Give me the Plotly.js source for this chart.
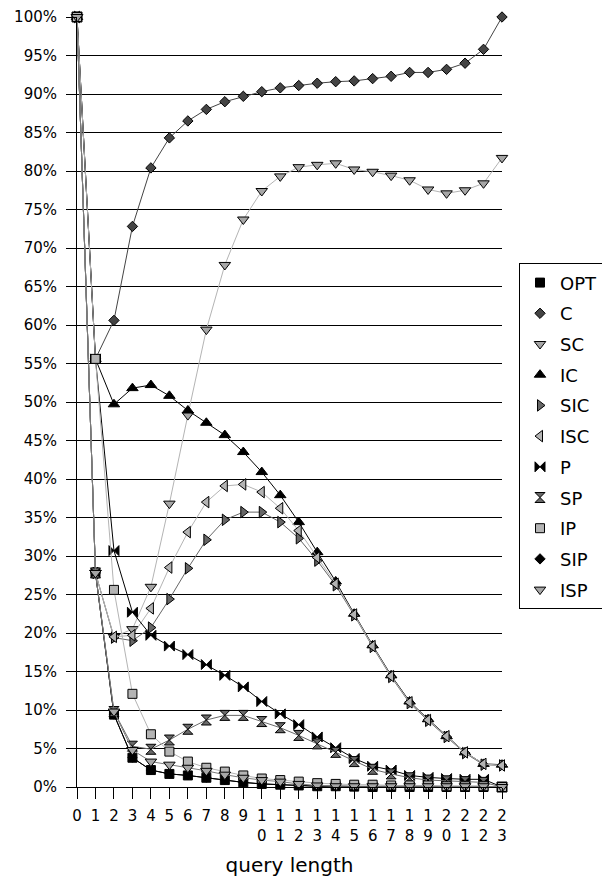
<!DOCTYPE html>
<html>
<head>
<meta charset="utf-8">
<script src="https://cdn.plot.ly/plotly-3.0.1.min.js"></script>
<style>html,body{margin:0;padding:0;background:#fff;}</style>
</head>
<body>
<div id="chart" style="width:602px;height:879px;"></div>
<script>
// query length (x categories)
const queryLength = [0,1,2,3,4,5,6,7,8,9,10,11,12,13,14,15,16,17,18,19,20,21,22,23];
const xLabels = ["0","1","2","3","4","5","6","7","8","9","10","11","12","13","14","15","16","17","18","19","20","21","22","23"];

// series values (percent)
const OPT = [100, 27.8, 9.4, 3.8, 2.2, 1.7, 1.5, 1.2, 0.9, 0.6, 0.4, 0.3, 0.2, 0.1, 0.1, 0.05, 0, 0, 0, 0, 0, 0, 0, 0];
const C   = [100, 55.6, 60.6, 72.8, 80.4, 84.3, 86.5, 88.0, 89.0, 89.7, 90.3, 90.8, 91.1, 91.4, 91.6, 91.7, 92.0, 92.3, 92.8, 92.8, 93.2, 94.0, 95.8, 100];
const SC  = [100, 27.8, 19.5, 20.5, 26.0, 36.8, 48.3, 59.4, 67.8, 73.7, 77.4, 79.3, 80.5, 80.8, 81.0, 80.2, 79.9, 79.4, 78.8, 77.6, 77.1, 77.5, 78.4, 81.7];
const IC  = [100, 55.6, 49.7, 51.8, 52.2, 50.8, 48.9, 47.3, 45.7, 43.5, 40.9, 37.9, 34.4, 30.5, 26.7, 22.5, 18.4, 14.5, 11.1, 8.8, 6.6, 4.5, 3.0, 2.9];
const SIC = [100, 27.8, 19.4, 19.0, 20.7, 24.4, 28.4, 32.1, 34.7, 35.7, 35.7, 34.4, 32.3, 29.4, 26.2, 22.3, 18.2, 14.3, 10.9, 8.6, 6.5, 4.4, 2.9, 2.8];
const ISC = [100, 27.8, 19.5, 19.7, 23.2, 28.5, 33.1, 37.0, 39.1, 39.3, 38.3, 36.2, 33.3, 29.8, 26.4, 22.4, 18.3, 14.4, 11.0, 8.7, 6.6, 4.5, 3.0, 2.8];
const P   = [100, 55.6, 30.7, 22.7, 19.7, 18.3, 17.2, 15.9, 14.5, 13.0, 11.1, 9.5, 8.1, 6.5, 5.1, 3.7, 2.7, 2.2, 1.5, 1.25, 1.1, 1.0, 1.0, 0];
const SP  = [100, 27.8, 9.8, 5.3, 4.9, 6.1, 7.5, 8.7, 9.3, 9.3, 8.5, 7.7, 6.7, 5.6, 4.5, 3.3, 2.3, 1.7, 1.2, 0.9, 0.8, 0.7, 0.6, 0];
const IP  = [100, 55.6, 25.6, 12.1, 6.85, 4.6, 3.3, 2.5, 2.0, 1.5, 1.1, 0.9, 0.7, 0.5, 0.4, 0.3, 0.3, 0.2, 0.2, 0.2, 0.1, 0.1, 0.1, 0];
const SIP = [100, 27.8, 9.4, 3.8, 2.2, 1.7, 1.5, 1.2, 0.9, 0.6, 0.4, 0.3, 0.2, 0.1, 0.1, 0.05, 0, 0, 0, 0, 0, 0, 0, 0];
const ISP = [100, 27.8, 9.8, 4.8, 3.3, 2.9, 2.5, 2.1, 1.6, 1.2, 0.9, 0.7, 0.4, 0.2, 0.1, 0.1, 0.1, 0.1, 0.1, 0.1, 0.1, 0.1, 0.1, 0];

const yTicks = [0,5,10,15,20,25,30,35,40,45,50,55,60,65,70,75,80,85,90,95,100];

const seriesNames = ["OPT","C","SC","IC","SIC","ISC","P","SP","IP","SIP","ISP"];
const seriesData  = [OPT, C, SC, IC, SIC, ISC, P, SP, IP, SIP, ISP];
// drawing order (SIP lies under the OPT squares)
const drawOrder = ["SIP","OPT","C","SC","IC","SIC","ISC","P","SP","IP","ISP"];

const styles = {
  OPT: {symbol:"square",         size:9,  fill:"#000000", line:"#000000"},
  C:   {symbol:"diamond",        size:8,  fill:"#444444", line:"#444444"},
  SC:  {symbol:"triangle-down",  size:10, fill:"#a6a6a6", line:"#b4b4b4"},
  IC:  {symbol:"triangle-up",    size:10, fill:"#000000", line:"#000000"},
  SIC: {symbol:"triangle-right", size:10, fill:"#666666", line:"#666666"},
  ISC: {symbol:"triangle-left",  size:10, fill:"#b4b4b4", line:"#b4b4b4"},
  P:   {symbol:"bowtie",         size:10, fill:"#000000", line:"#000000"},
  SP:  {symbol:"hourglass",      size:10, fill:"#6a6a6a", line:"#6a6a6a"},
  IP:  {symbol:"square",         size:9,  fill:"#b4b4b4", line:"#b4b4b4"},
  SIP: {symbol:"diamond",        size:7,  fill:"#000000", line:"#000000"},
  ISP: {symbol:"triangle-down",  size:10, fill:"#a6a6a6", line:"#7a7a7a"}
};

const traces = [];
drawOrder.forEach((name) => {
  const s = styles[name];
  const i = seriesNames.indexOf(name);
  traces.push({
    type: "scatter", mode: "lines+markers", name: name,
    x: queryLength, y: seriesData[i],
    showlegend: false, cliponaxis: false, hoverinfo: "skip",
    line: {color: s.line, width: 1},
    marker: {symbol: s.symbol, size: s.size, color: s.fill, line: {color: "#000", width: 1}}
  });
});
// legend entries (markers only)
seriesNames.forEach((name) => {
  const s = styles[name];
  traces.push({
    type: "scatter", mode: "markers", name: name,
    x: [null], y: [null], legendgroup: name, showlegend: true,
    marker: {symbol: s.symbol, size: (name === "SIP" ? 8 : s.size), color: s.fill, line: {color: "#000", width: 1}}
  });
});

const layout = {
  width: 602, height: 879,
  margin: {l: 77, r: 100, t: 17, b: 92, pad: 0, autoexpand: false},
  paper_bgcolor: "#fff", plot_bgcolor: "#fff",
  font: {family: "DejaVu Sans, sans-serif", size: 15, color: "#000"},
  showlegend: true,
  legend: {
    x: 1.04, xanchor: "left", y: 0.68, yanchor: "top",
    bordercolor: "#000", borderwidth: 1, bgcolor: "#fff",
    font: {size: 18, family: "DejaVu Sans, sans-serif", color: "#000"},
    tracegroupgap: 4.3, itemwidth: 30
  },
  xaxis: {
    range: [0, 23], tickmode: "array", tickvals: queryLength,
    ticktext: xLabels.map(s => s.split("").join("<br>")),
    ticks: "outside", ticklen: 11, tickcolor: "#000", tickwidth: 1,
    showgrid: false, zeroline: false, showline: true, linecolor: "#000", linewidth: 1,
    tickfont: {size: 15}, ticklabelstandoff: 4,
    title: {text: "query length", font: {size: 20}, standoff: 14}
  },
  yaxis: {
    range: [0, 100], tickmode: "array", tickvals: yTicks,
    ticktext: yTicks.map(v => v + "%"),
    ticks: "outside", ticklen: 10, tickcolor: "#000", tickwidth: 1,
    showgrid: true, gridcolor: "#000", gridwidth: 1,
    zeroline: false, showline: true, linecolor: "#000", linewidth: 1,
    tickfont: {size: 15}, ticklabelstandoff: 6
  }
};

Plotly.newPlot("chart", traces, layout, {staticPlot: true, displayModeBar: false});
</script>
</body>
</html>
